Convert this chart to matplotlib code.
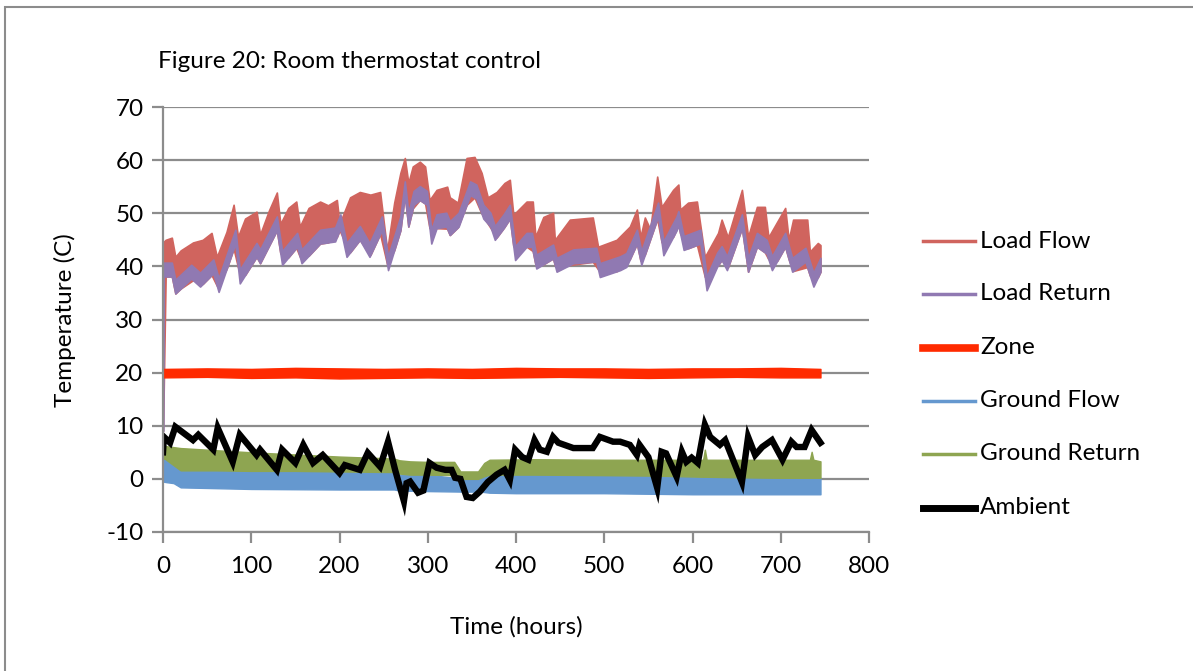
import matplotlib
matplotlib.use("Agg")
import matplotlib.pyplot as plt
from matplotlib.lines import Line2D
from matplotlib.patches import Rectangle
import numpy as np

plt.rcParams['font.family'] = ['Lato', 'DejaVu Sans']
plt.rcParams['axes.unicode_minus'] = False

# ---------------- data ----------------
# Load Flow: upper envelope of the dense oscillation
lf_t = [0, 3, 10, 14, 20, 34, 45, 55, 61, 72, 80, 85, 93, 106, 110, 120, 129, 133,
        142, 151, 155, 165, 178, 187, 197, 200, 212, 223, 235, 246, 254, 262, 269,
        274, 278, 283, 291, 297, 302, 310, 322, 325, 334, 344, 353, 361, 368, 378,
        387, 393, 397, 412, 419, 422, 431, 442, 444, 461, 487, 493, 514, 529, 537,
        541, 546, 552, 560, 565, 578, 584, 586, 595, 605, 614, 629, 633, 640, 656,
        663, 673, 682, 686, 696, 705, 709, 714, 730, 733, 742, 745]
lf_hi = [44.5, 45.0, 45.4, 41.8, 43.0, 44.5, 45.0, 46.3, 41.8, 46.5, 51.6, 45.6, 49.0,
         50.3, 46.0, 50.5, 53.9, 48.0, 51.0, 52.2, 47.5, 51.0, 52.2, 51.5, 52.5, 48.0,
         53.0, 54.0, 53.5, 54.0, 43.0, 52.0, 57.6, 60.4, 55.7, 58.8, 59.7, 58.8, 52.5,
         54.4, 55.0, 53.0, 52.0, 60.4, 60.6, 57.6, 53.0, 54.0, 55.7, 56.3, 49.7, 52.2,
         52.2, 45.6, 49.3, 50.1, 45.0, 48.8, 49.2, 43.7, 45.0, 47.5, 50.7, 45.5, 49.2,
         47.0, 56.9, 51.2, 54.4, 55.4, 50.7, 52.0, 52.2, 41.8, 46.3, 48.8, 45.5, 54.4,
         45.6, 51.2, 51.2, 45.5, 48.4, 51.0, 45.0, 48.8, 48.8, 42.8, 44.4, 44.0]

# Load Return: lower and upper edge of its band
lr_t = [0, 0.5, 10, 14, 32, 42, 57, 63, 82, 87, 106, 110, 129, 135, 152, 157, 178,
        195, 201, 208, 223, 234, 248, 255, 269, 274, 278, 284, 291, 299, 304, 310,
        321, 325, 335, 348, 355, 363, 371, 376, 386, 393, 399, 412, 418, 423, 442,
        446, 465, 491, 495, 518, 525, 537, 542, 561, 567, 582, 584, 590, 609, 616,
        628, 633, 639, 656, 663, 673, 684, 690, 705, 713, 728, 737, 745]
lr_lo = [9.0, 38.1, 38.1, 34.9, 37.7, 36.2, 38.7, 35.2, 44.3, 36.8, 41.8, 40.6, 46.8,
         40.3, 43.7, 40.6, 44.3, 44.7, 47.2, 41.8, 45.0, 41.8, 46.8, 39.3, 46.8, 53.4,
         47.5, 51.6, 52.5, 51.6, 44.3, 47.2, 47.5, 45.9, 47.5, 53.4, 52.8, 49.0, 47.5,
         45.0, 47.2, 49.0, 41.2, 43.7, 43.7, 39.6, 41.5, 39.0, 40.6, 40.9, 38.0, 39.3,
         39.9, 44.3, 40.3, 49.4, 42.1, 46.8, 47.8, 43.1, 44.3, 35.5, 40.0, 41.2, 39.3,
         47.2, 39.0, 43.7, 42.4, 39.3, 43.7, 39.0, 40.9, 36.2, 39.0]
lr_hi = [40.7, 40.7, 40.7, 37.5, 40.3, 38.8, 41.3, 37.8, 46.9, 39.4, 44.4, 43.2, 49.4,
         42.9, 46.3, 43.2, 46.9, 47.3, 49.8, 44.4, 47.6, 44.4, 49.4, 41.9, 49.4, 56.0,
         50.1, 54.2, 55.1, 54.2, 46.9, 49.8, 50.1, 48.5, 50.1, 56.0, 55.4, 51.6, 50.1,
         47.6, 49.8, 51.6, 43.8, 46.3, 46.3, 42.2, 44.1, 41.6, 43.2, 43.5, 40.6, 41.9,
         42.5, 46.9, 42.9, 52.0, 44.7, 49.4, 50.4, 45.7, 46.9, 38.1, 42.6, 43.8, 41.9,
         49.8, 41.6, 46.3, 45.0, 41.9, 46.3, 41.6, 43.5, 38.8, 41.6]

# Zone: thin band around 20 C
zone_t = [0, 50, 100, 150, 200, 250, 300, 350, 400, 450, 500, 550, 600, 650, 700, 745]
zone_lo = [19.1, 19.2, 19.0, 19.1, 18.9, 19.0, 19.1, 19.0, 19.1, 19.2, 19.1, 19.0, 19.1, 19.2, 19.1, 19.1]
zone_hi = [20.7, 20.8, 20.7, 20.9, 20.8, 20.7, 20.8, 20.7, 20.9, 20.8, 20.8, 20.7, 20.8, 20.8, 20.9, 20.7]

# Ground Flow band
gf_t = [0, 3, 12, 20, 100, 200, 262, 268, 300, 340, 360, 370, 400, 500, 600, 700, 745]
gf_hi = [4.1, 4.1, 3.0, 1.7, 1.6, 1.5, 1.3, 0.8, 0.8, 0.0, 0.0, 0.8, 0.8, 0.7, 0.3, 0.2, 0.2]
gf_lo = [-0.5, -0.6, -0.8, -1.6, -1.9, -2.0, -2.0, -2.2, -2.3, -2.4, -2.4, -2.6, -2.7,
         -2.7, -2.9, -2.9, -2.9]

# Ground Return band
gr_t = [0, 2, 20, 60, 100, 150, 200, 250, 262, 268, 280, 300, 330, 337, 357, 364,
        370, 420, 500, 560, 612, 614, 616, 650, 700, 733, 735, 737, 745]
gr_hi = [6.0, 6.2, 5.8, 5.4, 5.0, 4.6, 4.2, 3.9, 3.8, 3.5, 3.3, 3.2, 3.2, 1.4, 1.4, 3.0,
         3.6, 3.7, 3.6, 3.6, 3.6, 5.5, 3.6, 3.6, 3.6, 3.6, 5.1, 3.6, 3.3]
gr_lo = [3.8, 3.8, 1.6, 1.6, 1.5, 1.5, 1.4, 1.3, 1.3, 1.0, 0.8, 0.8, 0.7, 0.0, 0.0, 0.5,
         0.8, 0.8, 0.7, 0.6, 0.4, 0.4, 0.4, 0.3, 0.2, 0.2, 0.2, 0.2, 0.2]

# Ambient temperature
amb_t = [0, 1, 8, 14, 34, 40, 57, 62, 79, 87, 106, 110, 129, 135, 150, 159, 170, 181,
         200, 206, 223, 232, 246, 255, 263, 273, 276, 280, 289, 295, 302, 310, 320,
         327, 331, 337, 344, 351, 359, 368, 378, 387, 393, 399, 407, 414, 421, 427,
         435, 442, 448, 465, 487, 495, 510, 518, 529, 537, 540, 550, 560, 565, 570,
         582, 588, 593, 599, 606, 614, 620, 631, 637, 656, 663, 671, 679, 690, 702,
         712, 718, 727, 735, 745]
amb_v = [5.0, 7.9, 6.8, 9.8, 7.3, 8.3, 5.5, 9.6, 3.2, 8.3, 4.5, 5.5, 1.7, 5.5, 3.0, 6.4,
         3.0, 4.5, 1.1, 2.6, 1.7, 4.9, 2.3, 7.0, 1.7, -4.2, -0.8, -0.5, -2.6, -2.2, 3.0,
         2.1, 1.7, 1.7, 0.2, 0.0, -3.4, -3.6, -2.4, -0.6, 0.8, 1.7, -0.2, 5.5, 4.1, 3.6,
         7.3, 5.5, 5.1, 7.9, 6.8, 5.8, 5.8, 7.9, 7.0, 7.0, 6.4, 4.5, 6.4, 4.1, -1.7, 5.1,
         4.8, 0.4, 5.1, 3.2, 4.0, 3.0, 10.2, 7.9, 6.4, 7.3, -0.6, 7.9, 4.5, 6.0, 7.3, 3.6,
         7.0, 6.0, 6.0, 9.2, 6.8]

x_ticks = [0, 100, 200, 300, 400, 500, 600, 700, 800]
y_ticks = [-10, 0, 10, 20, 30, 40, 50, 60, 70]

series_names = ["Load Flow", "Load Return", "Zone", "Ground Flow", "Ground Return", "Ambient"]
series_colors = ["#D0645E", "#9079B2", "#FF2A00", "#6598CF", "#8EA551", "#000000"]
legend_lw = [2.5, 2.5, 5.5, 2.5, 2.5, 5.0]

FS = 17.5

# ---------------- figure ----------------
W, H = 1193, 671
fig = plt.figure(figsize=(W / 100, H / 100), dpi=100)
fig.patch.set_facecolor("white")

# outer chart border (cut by the image edge at right/bottom)
fig.add_artist(Rectangle((5 / W, -0.05), 1.2, 1 - 7 / H + 0.05, transform=fig.transFigure,
                         fill=False, edgecolor="#8C8C8C", linewidth=1.5, clip_on=False))

ax = fig.add_axes([163 / W, 1 - 532 / H, (869 - 163) / W, (532 - 107) / H])
ax.set_xlim(0, 800)
ax.set_ylim(-10, 70)
ax.set_xticks(x_ticks)
ax.set_yticks(y_ticks)
ax.grid(axis="y", color="#8C8C8C", linewidth=1.6)
ax.set_axisbelow(True)
for s in ["top", "right"]:
    ax.spines[s].set_visible(False)
for s in ["left", "bottom"]:
    ax.spines[s].set_color("#8C8C8C")
    ax.spines[s].set_linewidth(1.6)
ax.tick_params(axis="both", direction="out", length=8, width=1.6, color="#8C8C8C",
               labelsize=FS, labelcolor="black")
ax.tick_params(axis="y", pad=6)
ax.tick_params(axis="x", pad=9)

# Load Flow (under) and Load Return (over)
lr_lo_on_lf = np.interp(lf_t, lr_t, lr_lo)
ax.fill_between(lf_t, lr_lo_on_lf, lf_hi, color=series_colors[0], linewidth=1.2,
                edgecolor=series_colors[0])
ax.fill_between(lr_t, lr_lo, lr_hi, color=series_colors[1], linewidth=1.2,
                edgecolor=series_colors[1])
ax.fill_between(zone_t, zone_lo, zone_hi, color=series_colors[2], linewidth=1.0,
                edgecolor=series_colors[2])
ax.fill_between(gf_t, gf_lo, gf_hi, color=series_colors[3], linewidth=1.0,
                edgecolor=series_colors[3])
ax.fill_between(gr_t, gr_lo, gr_hi, color=series_colors[4], linewidth=1.0,
                edgecolor=series_colors[4])
ax.plot(amb_t, amb_v, color=series_colors[5], linewidth=4.6, solid_joinstyle="miter")

# texts
fig.text(158 / W, 1 - 61 / H, "Figure 20: Room thermostat control", fontsize=FS,
         ha="left", va="center")
fig.text(65 / W, 1 - 320 / H, "Temperature (C)", fontsize=FS, rotation=90,
         ha="center", va="center")
fig.text(516 / W, 1 - 627 / H, "Time (hours)", fontsize=FS, ha="center", va="center")

# legend
leg_y = [241, 294, 348, 401, 454, 508]
for name, col, lw, yy in zip(series_names, series_colors, legend_lw, leg_y):
    fig.add_artist(Line2D([923 / W, 975 / W], [1 - yy / H, 1 - yy / H], color=col,
                          linewidth=lw, transform=fig.transFigure))
    fig.text(980 / W, 1 - yy / H, name, fontsize=FS, ha="left", va="center")

fig.savefig("out.png", dpi=100)
